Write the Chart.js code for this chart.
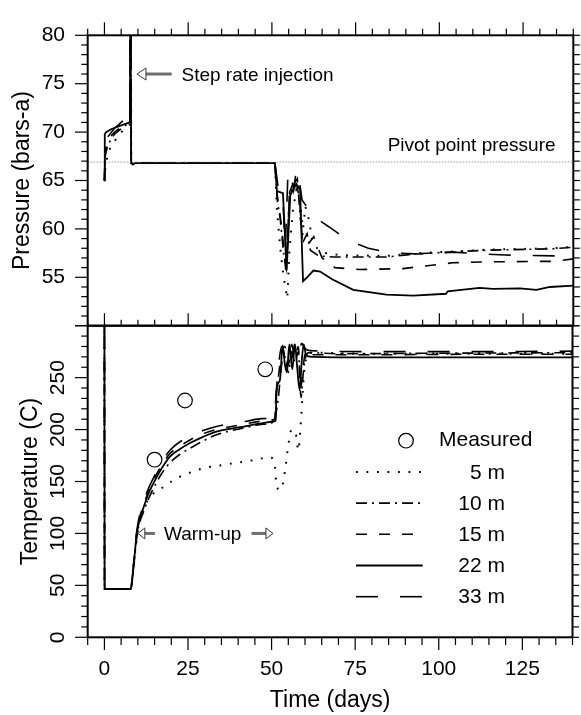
<!DOCTYPE html>
<html>
<head>
<meta charset="utf-8">
<script src="https://cdn.jsdelivr.net/npm/chart.js@4.4.1/dist/chart.umd.min.js"></script>
<style>
  html, body { margin: 0; padding: 0; background: #fff; }
  #wrap { position: relative; width: 581px; height: 715px; }
  canvas { position: absolute; left: 0; top: 0; }
</style>
</head>
<body>
<div id="wrap">
  <canvas id="pres" width="581" height="715"></canvas>
  <canvas id="temp" width="581" height="715"></canvas>
</div>
<script>
// ── data: [time (days), value] ──
const depthLabels = ['5 m', '10 m', '15 m', '22 m', '33 m'];
const timeLabels = [0, 25, 50, 75, 100, 125];
const pressLabels = [55, 60, 65, 70, 75, 80];
const tempLabels = [0, 50, 100, 150, 200, 250];

const pivotPressure = [[-5, 66.9], [140, 66.9]];

const press5 = [[0, 65], [0.3, 66.5], [1.2, 68], [2.5, 68.8], [4.5, 69.8], [6.5, 70.5], [7.6, 70.8], [7.75, 85], [7.9, 85], [8.0, 66.8],
  [50.9, 66.8], [51.5, 62], [52.5, 58], [53.5, 55], [54.6, 52.8], [55.3, 58], [56.3, 62], [57.3, 64], [58.3, 63], [59.3, 60],
  [60, 62.3], [61, 61], [62, 59], [63.5, 58], [66, 57.5], [70, 57.3], [84, 57.2], [94, 57.5], [114, 57.85], [134, 58], [140, 58.15]];
const press10 = [[0, 65], [0.2, 67.5], [1, 68.7], [3, 69.8], [5.5, 70.5], [7.6, 71.0], [7.75, 85], [7.9, 85], [8.0, 66.8],
  [50.9, 66.8], [51.6, 63], [52.5, 61], [53.5, 57.5], [54.3, 56], [55.2, 63.5], [56.8, 64.8], [57.6, 65.2], [58.5, 61], [59.5, 58.8],
  [60.5, 59.5], [61.5, 57.8], [64, 57.2], [68.3, 57.1], [84.2, 57.1], [94.2, 57.45], [114, 57.8], [134, 57.95], [140, 58.1]];
const press15 = [[0, 65], [0.2, 68], [1, 69.2], [3, 70], [6, 70.8], [7.6, 71.1], [7.75, 85], [7.9, 85], [8.0, 66.8],
  [50.9, 66.8], [51.6, 63.5], [53, 60], [54.2, 55.5], [55.3, 63.8], [57, 65.3], [58.3, 63], [59, 59], [60, 58.2], [61, 58.5],
  [62.5, 59.2], [63.2, 58.5], [65, 57], [68.8, 56.0], [76.3, 55.8], [89.2, 55.9], [104, 56.5], [114, 56.6], [134, 56.65], [140, 56.9]];
const press22 = [[0, 65], [0.1, 69.8], [0.5, 70.0], [2, 70.3], [5, 70.7], [7.6, 71.0], [7.75, 85], [7.9, 85], [8.0, 66.8], [8.5, 66.65], [9.2, 66.8],
  [50.9, 66.8], [51.5, 63.9], [53.3, 63.7], [54.4, 55.7], [55.5, 63.5], [57.2, 64.6], [58.4, 64.2], [59.3, 54.6], [60.5, 55.0],
  [62.4, 55.7], [64.4, 55.6], [68, 54.8], [74.3, 53.7], [84.2, 53.2], [92.2, 53.1], [102, 53.3], [102.5, 53.55], [112, 53.9],
  [116, 53.8], [124, 53.85], [129, 53.7], [133, 54.0], [140, 54.15]];
const press33 = [[0, 65], [0.2, 68.5], [1, 69.5], [3, 70.4], [6, 71.3], [7, 71.4], [7.6, 71.3], [7.75, 85], [7.9, 85], [8.0, 66.8],
  [50.9, 66.8], [51.8, 64.5], [53.2, 63.5], [54, 58], [54.8, 65.8], [55.5, 66], [56.5, 64], [57.3, 66.1], [58.2, 65], [59, 63],
  [60, 62.5], [61.9, 61.4], [67.1, 60.2], [72.8, 58.8], [78.8, 58.0], [85.7, 57.5], [94.2, 57.4], [104, 57.6], [114, 57.4],
  [119.5, 57.3], [128, 57.25], [136, 57.2]];

const temp5 = [[0, 310], [0.05, 46.5], [7.9, 46.5], [8.3, 55], [8.7, 66], [9.2, 82], [9.7, 96], [10.6, 113], [12, 126], [13.6, 135],
  [15.3, 140], [17.1, 143.5], [19.8, 149.5], [22.6, 154.6], [26, 159], [29.5, 162.7], [34.5, 165.5], [39.5, 168], [44.5, 170.5],
  [49.4, 173.3], [50.9, 167.5], [51.5, 145], [52.8, 142], [54, 160], [55, 185], [56, 200], [57.3, 195], [58, 180], [58.6, 200],
  [59.2, 230], [59.8, 258], [60.5, 270], [61.5, 274], [80, 273], [110, 273], [140, 273]];
const temp10 = [[0, 310], [0.05, 46.5], [7.9, 46.5], [8.3, 54], [8.7, 66], [9.2, 82], [9.7, 97], [10.5, 110], [11.6, 120], [13, 132],
  [14.6, 143], [17, 157], [19.6, 168], [22.5, 176], [25.6, 182], [29.5, 189], [33.5, 195], [38, 199], [42.5, 202], [47, 205],
  [50.9, 208], [51.3, 215], [52, 230], [53, 262], [54, 270], [55, 255], [56, 275], [57, 265], [58, 275], [58.8, 231], [59.5, 255],
  [60.2, 270], [61, 274], [70, 273], [100, 273.5], [140, 274]];
const temp15 = [[0, 310], [0.05, 46.5], [7.9, 46.5], [8.3, 56], [8.7, 69], [9.2, 86], [9.7, 101], [10.5, 115], [11.6, 126], [13, 139],
  [14.6, 151], [17, 165], [19.6, 177], [22.5, 184], [25.6, 190], [29.5, 196], [33.5, 200], [38, 203], [42.5, 205.5], [47, 208],
  [50.9, 210], [51.3, 230], [52.2, 255], [53, 275], [54, 280], [55, 262], [56, 282], [57, 270], [58, 280], [58.7, 240], [59.5, 262],
  [60.3, 276], [61.5, 272], [80, 272], [110, 272.5], [140, 272.5]];
const temp22 = [[0, 310], [0.05, 46.5], [7.9, 46.5], [8.3, 55], [8.7, 68], [9.2, 85], [9.7, 100], [10.5, 113], [11.6, 124], [13, 137],
  [14.6, 148], [17, 162], [19.6, 174], [22.5, 181], [25.6, 187], [29.5, 193], [33.5, 198], [38, 201], [42.5, 203.4], [47, 206],
  [50.9, 208], [51.2, 209], [51.5, 238], [52.5, 248], [53.3, 281], [54, 262], [54.6, 255], [55.3, 282], [56.2, 258], [57, 282],
  [57.6, 262], [58.4, 238], [59, 265], [59.6, 282], [60.3, 272], [62, 270], [80, 269.5], [100, 269.5], [140, 269.5]];
const temp33 = [[0, 310], [0.05, 46.5], [7.9, 46.5], [8.3, 56], [8.7, 70], [9.2, 88], [9.7, 103], [10.5, 117], [11.6, 129], [13, 142],
  [14.6, 153], [17, 168], [19.6, 180], [22.5, 188], [25.6, 193], [29.5, 199], [33.5, 203], [38, 206], [42.5, 208], [47, 210.5],
  [50.9, 212], [51.3, 232], [52.2, 265], [53, 280], [54, 272], [55, 283], [56, 268], [57, 283], [58, 272], [59, 283], [60, 278],
  [61.5, 276], [80, 275], [110, 275], [140, 275.5]];

const measured = [[15, 171], [24.1, 228], [48.1, 258]];

// line looks, in series order
const lineLooks = [
  { dash: [1.8, 8.7], width: 2 },       // 5 m  dotted
  { dash: [11, 5, 2, 5], width: 1.6 },  // 10 m dash-dot
  { dash: [11, 12], width: 1.6 },       // 15 m dashed
  { dash: [], width: 1.8 },             // 22 m solid
  { dash: [22, 22], width: 1.6 }        // 33 m long dash
];

Chart.defaults.font.family = '"Liberation Sans", Arial, Helvetica, sans-serif';
Chart.defaults.color = '#000';
const FONT = '"Liberation Sans", Arial, Helvetica, sans-serif';

function depthSets(series, smooth) {
  return series.map((data, i) => ({
    label: depthLabels[i],
    data: data,
    borderColor: '#000',
    borderWidth: lineLooks[i].width,
    borderDash: lineLooks[i].dash,
    borderCapStyle: 'butt',
    pointRadius: 0,
    fill: false,
    tension: 0,
    cubicInterpolationMode: smooth ? 'monotone' : 'default'
  }));
}

function timeAxis(show) {
  return {
    type: 'linear', min: -5, max: 140, display: show,
    grid: { display: false, drawTicks: false },
    border: { display: false },
    afterBuildTicks: s => { s.ticks = timeLabels.map(v => ({ value: v })); },
    ticks: { padding: 19, font: { size: 21 }, maxRotation: 0 },
    title: { display: show, text: 'Time (days)', font: { size: 23 }, padding: { top: 0, bottom: 1 } },
    afterFit: s => { s.height = show ? 77.7 : 0; }
  };
}

// ═══ frame + tick marks ═══
const frameTicks = {
  id: 'frameTicks',
  afterDatasetsDraw(chart, args, o) {
    const { ctx, chartArea: a, scales: { x, y } } = chart;
    const seg = (x1, y1, x2, y2) => { ctx.beginPath(); ctx.moveTo(x1, y1); ctx.lineTo(x2, y2); ctx.stroke(); };
    ctx.save();
    ctx.strokeStyle = '#000';
    ctx.lineWidth = 1.2;
    for (let t = -5; t <= 140; t += 5) {
      const px = x.getPixelForValue(t);
      const major = t % 25 === 0;
      if (o.topOut) seg(px, a.top, px, a.top - (major ? 13 : 6.5));
      if (o.bottomIn) seg(px, a.bottom, px, a.bottom - (major ? 12.5 : 6));
      if (o.bottomOut) seg(px, a.bottom, px, a.bottom + (major ? 12.7 : 7.7));
    }
    for (let v = o.yMin; v <= o.yMax; v += o.yMinor) {
      const py = y.getPixelForValue(v);
      const major = v % o.yMajor === 0;
      seg(a.left, py, a.left - (major ? 12.7 : 6.5), py);
      seg(a.right, py, a.right + 6.5, py);
    }
    ctx.lineWidth = 2;
    ctx.strokeRect(a.left, a.top, a.right - a.left, a.bottom - a.top);
    ctx.restore();
  }
};

function drawArrow(ctx, xTail, xTip, y, len, half) {
  const dir = Math.sign(xTip - xTail);
  const base = xTip - dir * len;
  ctx.save();
  ctx.strokeStyle = '#6e6e6e';
  ctx.lineWidth = 3;
  ctx.beginPath(); ctx.moveTo(xTail, y); ctx.lineTo(base, y); ctx.stroke();
  ctx.fillStyle = '#fff';
  ctx.strokeStyle = '#333';
  ctx.lineWidth = 1;
  ctx.beginPath();
  ctx.moveTo(xTip, y); ctx.lineTo(base, y - half); ctx.lineTo(base, y + half); ctx.closePath();
  ctx.fill(); ctx.stroke();
  ctx.restore();
}

// ═══ pressure panel notes ═══
const pressNotes = {
  id: 'pressNotes',
  afterDraw(chart) {
    const { ctx, scales: { x, y } } = chart;
    ctx.save();
    ctx.fillStyle = '#000';
    ctx.font = '19px ' + FONT;
    ctx.textBaseline = 'alphabetic';
    ctx.textAlign = 'right';
    ctx.fillText('Pivot point pressure', x.getPixelForValue(134.7), y.getPixelForValue(68.0));
    ctx.textAlign = 'left';
    ctx.fillText('Step rate injection', x.getPixelForValue(23.0), y.getPixelForValue(75.3));
    ctx.restore();
    drawArrow(ctx, x.getPixelForValue(20.1), x.getPixelForValue(9.7), y.getPixelForValue(76.0), 9, 6);
  }
};

// ═══ temperature panel notes + legend ═══
const tempNotes = {
  id: 'tempNotes',
  afterDraw(chart) {
    const { ctx, scales: { x, y } } = chart;
    const sets = chart.data.datasets;
    ctx.save();
    ctx.fillStyle = '#000';

    // vertical tick labels
    ctx.font = '21px ' + FONT;
    ctx.textAlign = 'center';
    ctx.textBaseline = 'middle';
    tempLabels.forEach(v => {
      ctx.save();
      ctx.translate(58.5, y.getPixelForValue(v));
      ctx.rotate(-Math.PI / 2);
      ctx.fillText(String(v), 0, 0);
      ctx.restore();
    });

    // warm-up
    ctx.font = '19px ' + FONT;
    ctx.textAlign = 'left';
    ctx.textBaseline = 'alphabetic';
    ctx.fillText('Warm-up', x.getPixelForValue(17.8), y.getPixelForValue(93.7));
    const ay = y.getPixelForValue(100);
    drawArrow(ctx, x.getPixelForValue(15.1), x.getPixelForValue(10.0), ay, 7, 5.5);
    drawArrow(ctx, x.getPixelForValue(44.0), x.getPixelForValue(50.4), ay, 7, 5.5);

    // legend
    const rowY0 = 440.7, dy = 31.2;
    ctx.font = '21px ' + FONT;
    ctx.textBaseline = 'middle';
    ctx.strokeStyle = '#000';
    ctx.lineWidth = 1.2;
    ctx.beginPath(); ctx.arc(406, rowY0, 7.3, 0, Math.PI * 2); ctx.stroke();
    ctx.textAlign = 'left';
    ctx.fillText('Measured', 439, rowY0);
    ctx.textAlign = 'right';
    sets.filter(d => depthLabels.includes(d.label)).forEach((d, i) => {
      const ry = rowY0 + dy * (i + 1);
      ctx.save();
      ctx.lineWidth = d.borderWidth;
      ctx.setLineDash(d.borderDash);
      ctx.lineCap = 'butt';
      ctx.beginPath(); ctx.moveTo(356, ry); ctx.lineTo(422.7, ry); ctx.stroke();
      ctx.restore();
      ctx.fillText(d.label, 505, ry + 1);
    });
    ctx.restore();
  }
};

// ═══ PRESSURE ═══
new Chart(document.getElementById('pres'), {
  type: 'line',
  data: {
    datasets: [
      { label: 'pivot', data: pivotPressure, borderColor: '#666', borderWidth: 1, borderDash: [1, 2], pointRadius: 0 },
      ...depthSets([press5, press10, press15, press22, press33], false)
    ]
  },
  options: {
    responsive: false, animation: false, events: [],
    layout: { padding: { left: 0, top: 14.7, right: 7.7, bottom: 389.3 } },
    plugins: {
      legend: { display: false }, tooltip: { enabled: false },
      frameTicks: { topOut: true, bottomIn: true, bottomOut: false, yMin: 50, yMax: 80, yMinor: 1, yMajor: 5 }
    },
    scales: {
      x: timeAxis(false),
      y: {
        type: 'linear', min: 50, max: 80,
        grid: { display: false, drawTicks: false },
        border: { display: false },
        afterBuildTicks: s => { s.ticks = pressLabels.map(v => ({ value: v })); },
        ticks: { padding: 22.7, font: { size: 21 } },
        title: { display: true, text: 'Pressure (bars-a)', font: { size: 23 }, padding: { top: 8.7, bottom: 0 } },
        afterFit: s => { s.width = 87.7; }
      }
    }
  },
  plugins: [frameTicks, pressNotes]
});

// ═══ TEMPERATURE ═══
new Chart(document.getElementById('temp'), {
  type: 'line',
  data: {
    datasets: [
      { label: 'Measured', data: measured, showLine: false, pointRadius: 7.3, pointBorderWidth: 1.2,
        pointBorderColor: '#000', pointBackgroundColor: 'rgba(0,0,0,0)', borderColor: '#000' },
      ...depthSets([temp5, temp10, temp15, temp22, temp33], true)
    ]
  },
  options: {
    responsive: false, animation: false, events: [],
    layout: { padding: { left: 0, top: 325.7, right: 7.7, bottom: 0 } },
    plugins: {
      legend: { display: false }, tooltip: { enabled: false },
      frameTicks: { topOut: false, bottomIn: false, bottomOut: true, yMin: 0, yMax: 300, yMinor: 10, yMajor: 50 }
    },
    scales: {
      x: timeAxis(true),
      y: {
        type: 'linear', min: 0, max: 300,
        grid: { display: false, drawTicks: false },
        border: { display: false },
        afterBuildTicks: s => { s.ticks = tempLabels.map(v => ({ value: v })); },
        ticks: { display: false },
        title: { display: true, text: 'Temperature (C)', font: { size: 23 }, padding: { top: 16.7, bottom: 0 } },
        afterFit: s => { s.width = 87.7; }
      }
    }
  },
  plugins: [frameTicks, tempNotes]
});
</script>
</body>
</html>
